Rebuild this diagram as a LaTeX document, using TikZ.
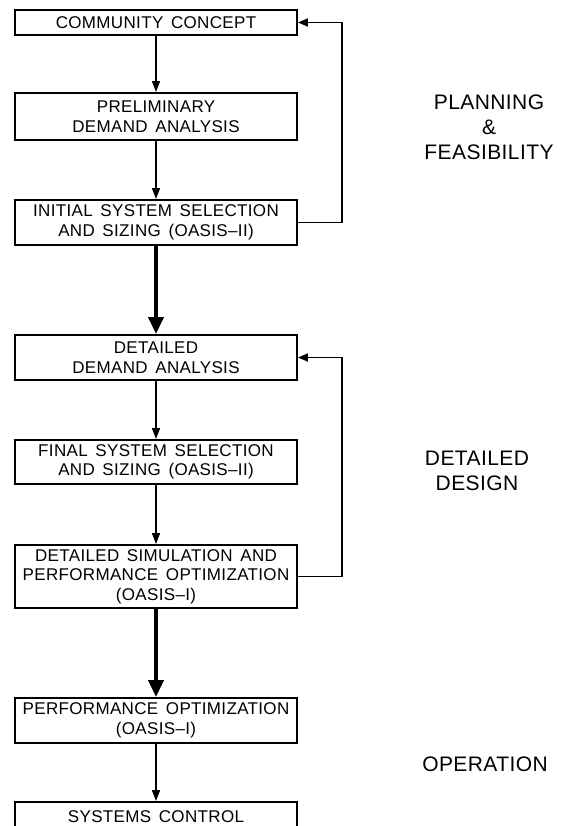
\documentclass[tikz,border=0pt]{standalone}
\usepackage{fontspec}
\setmainfont{Liberation Sans}
\usetikzlibrary{arrows.meta}
\newcommand\blkfont{\fontsize{17}{19.5}\selectfont\addfontfeature{LetterSpace=2}\spaceskip=0.45em plus 0.1em\relax}
\tikzset{
  blk/.style={draw, line width=1.9pt, minimum width=282pt, inner sep=0pt, align=center, font=\blkfont},
  phase/.style={align=center, font=\fontsize{21}{25}\selectfont\addfontfeature{LetterSpace=2}},
  flow/.style={line width=1.5pt, -{Triangle[length=11pt,width=8pt]}},
  bigflow/.style={line width=3.8pt, -{Triangle[length=17pt,width=15pt]}},
  back/.style={line width=1.8pt, -{Triangle[length=10pt,width=8pt]}}
}
\begin{document}
\begin{tikzpicture}[x=1pt,y=-1pt]
\useasboundingbox (0,0) rectangle (564,826);
\node[blk, minimum height=25pt] (cc) at (156,22.5) {COMMUNITY CONCEPT};
\node[blk, minimum height=47pt] (pda) at (156,116.5) {PRELIMINARY\\DEMAND ANALYSIS};
\node[blk, minimum height=45pt] (iss) at (156,222.5) {INITIAL SYSTEM SELECTION\\AND SIZING (OASIS--II)};
\node[blk, minimum height=45pt] (dda) at (156,357.5) {DETAILED\\DEMAND ANALYSIS};
\node[blk, minimum height=44pt] (fss) at (156,462) {FINAL SYSTEM SELECTION\\AND SIZING (OASIS--II)};
\node[blk, minimum height=63pt] (dsp) at (156,576.5) {DETAILED SIMULATION AND\\PERFORMANCE OPTIMIZATION\\(OASIS--I)};
\node[blk, minimum height=45pt] (po) at (156,720.5) {PERFORMANCE OPTIMIZATION\\(OASIS--I)};
\node[blk, minimum height=30pt] (sc) at (156,817) {SYSTEMS CONTROL};
% phase names
\node[phase] (pf) at (489,127) {PLANNING\\\&\\FEASIBILITY};
\node[phase] (dd) at (477,471) {DETAILED\\DESIGN};
\node[phase] (op) at (485,764) {OPERATION};
% forward flow
\draw[flow] (cc) -- (pda);
\draw[flow] (pda) -- (iss);
\draw[bigflow] (iss) -- (dda);
\draw[flow] (dda) -- (fss);
\draw[flow] (fss) -- (dsp);
\draw[bigflow] (dsp) -- (po);
\draw[flow] (po) -- (sc);
% feedback loops
\draw[back] (iss.east) -- ++(44,0) |- (cc.east);
\draw[back] (dsp.east) -- ++(44,0) |- (dda.east);
\end{tikzpicture}
\end{document}
